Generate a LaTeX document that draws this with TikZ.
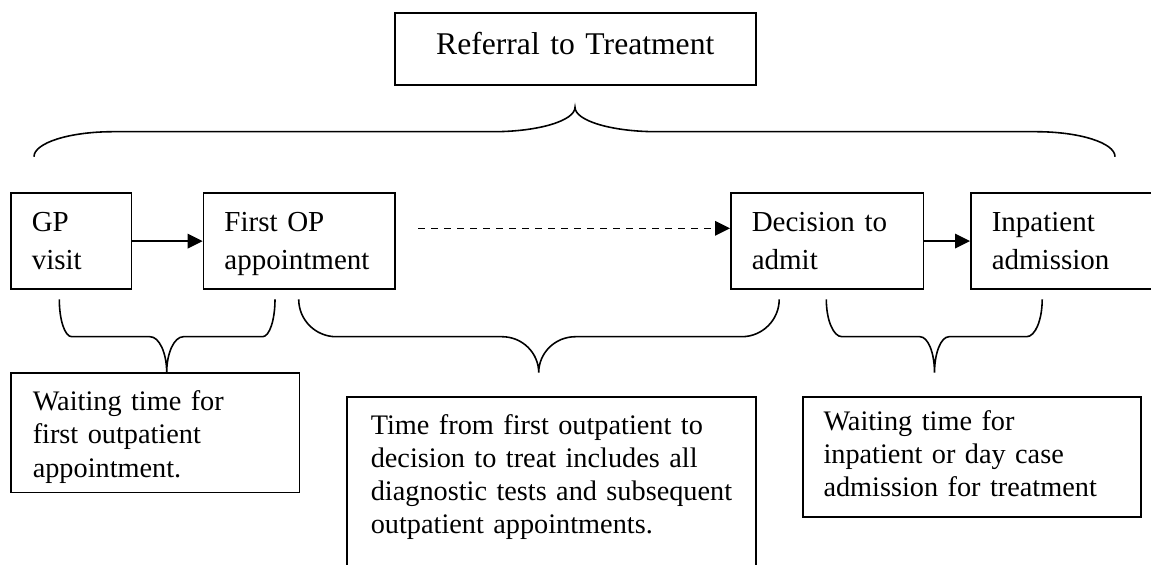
\documentclass[tikz,border=0pt]{standalone}
\usepackage{fontspec}
\setmainfont{Liberation Serif}
\usetikzlibrary{arrows.meta}

% curly bracket: left x, end bend, tip x, tip bend, right x, end y, middle y, tip y
\newcommand{\spanbrace}[8]{%
  \draw[curly] (#1,#6) .. controls (#1,{#6+0.552*(#7-#6)}) and ({#1+0.448*#2},#7) .. ({#1+#2},#7)
    -- ({#3-#4},#7) .. controls ({#3-0.448*#4},#7) and (#3,{#8-0.552*(#8-#7)}) .. (#3,#8)
    .. controls (#3,{#8-0.552*(#8-#7)}) and ({#3+0.448*#4},#7) .. ({#3+#4},#7)
    -- ({#5-#2},#7) .. controls ({#5-0.448*#2},#7) and (#5,{#6+0.552*(#7-#6)}) .. (#5,#6);}

\begin{document}
\begin{tikzpicture}[x=0.02cm, y=-0.02cm,
    stagebox/.style={draw, line width=0.9pt, anchor=north west, inner ysep=0pt, inner xsep=0.42cm,
        align=left, font=\fontsize{16.5}{21.3}\selectfont, text height=0.774cm, text depth=1.146cm},
    notebox/.style={draw, line width=0.9pt, anchor=north west, inner ysep=0pt, inner xsep=0.44cm,
        align=left, font=\fontsize{16.1}{18.9}\selectfont},
    flow/.style={line width=0.9pt, -{Triangle[length=0.3cm,width=0.29cm]}},
    curly/.style={line width=0.9pt}]
            \useasboundingbox (0,0) rectangle (1151,564);

            % Title
            \node[notebox, align=center, inner xsep=0.2cm, text width=6.82cm, text height=0.82cm,
                text depth=0.614cm, font=\fontsize{18}{21}\selectfont] (rtt) at (394,12.3) {Referral to Treatment};

            % Stages
            \node[stagebox, text width=1.574cm] (gp) at (10,192.3) {GP\\visit};
            \node[stagebox, text width=2.992cm] (op) at (202.7,192.3) {First OP\\appointment};
            \node[stagebox, text width=3.014cm] (dec) at (730,192.3) {Decision to\\admit};
            \node[stagebox, text width=2.84cm] (inp) at (970,192.3) {Inpatient\\admission};

            % Waits
            \node[notebox, text width=4.894cm, text height=0.754cm, text depth=1.634cm] (w1) at (10,372.3)
                {Waiting time for\\first outpatient\\appointment.};
            \node[notebox, inner xsep=0.1cm, text width=7.98cm, text height=0.746cm, text depth=2.834cm,
                execute at begin node={\leftskip=0.38cm}] (w2) at (346,396)
                {Time from first outpatient to\\decision to treat includes all\\diagnostic tests and subsequent\\outpatient appointments.};
            \node[notebox, inner xsep=0.41cm, text width=5.936cm, text height=0.666cm, text depth=1.734cm] (w3) at (802.2,396)
                {Waiting time for\\inpatient or day case\\admission for treatment};

            % Arrows
            \coordinate (dstart) at (418,228.3);
            \draw[flow] (gp) -- (op);
            \draw[flow, dash pattern=on 4pt off 3.4pt] (dstart) -- (dstart -| dec.west);
            \draw[flow] (dec) -- (inp);

            % Brackets
            \spanbrace{34}{79}{575}{82}{1115}{156.7}{131.7}{107.3}
            \spanbrace{59.3}{12.4}{166.7}{16.7}{275}{299.3}{336.7}{372.7}
            \spanbrace{298.7}{37.5}{538.7}{36.7}{779.2}{299.3}{336.7}{372.7}
            \spanbrace{826.3}{15.6}{934.5}{14.5}{1042.2}{299.3}{336.7}{372.7}

        \end{tikzpicture}
\end{document}
